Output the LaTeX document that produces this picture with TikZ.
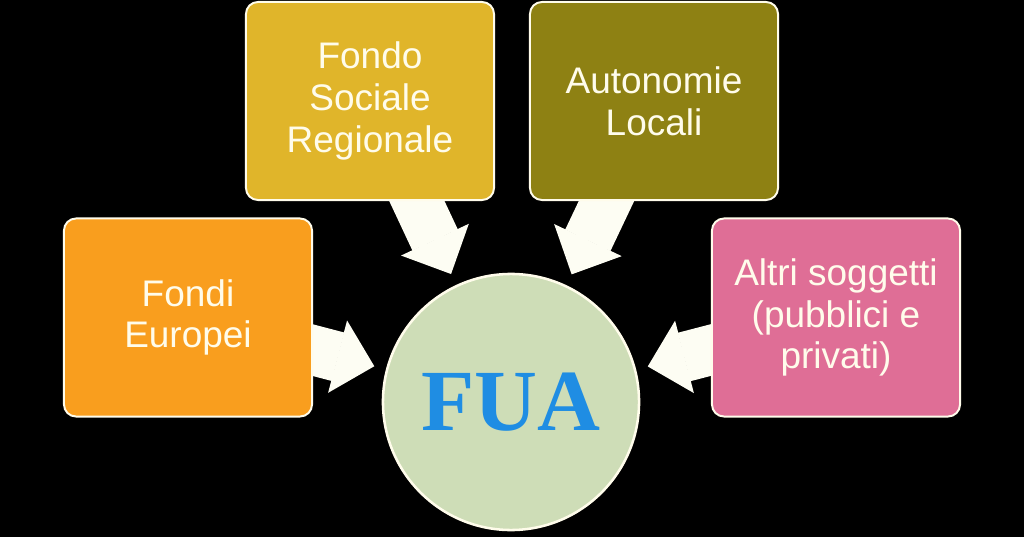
\documentclass[tikz,border=0pt]{standalone}
\usepackage{fontspec}
\setmainfont{Liberation Sans}
\newfontfamily\fuaserif{Liberation Serif}
\usepackage{tikz}
\usetikzlibrary{arrows.meta, backgrounds}
\definecolor{cream}{HTML}{FFFCEB}
\definecolor{arrowwhite}{HTML}{FDFDF3}
\definecolor{fondiorange}{HTML}{F99E1E}
\definecolor{socialegold}{HTML}{E0B52A}
\definecolor{autonomieolive}{HTML}{8E8113}
\definecolor{altripink}{HTML}{DF6E96}
\definecolor{fuagreen}{HTML}{CEDDB7}
\definecolor{fuablue}{HTML}{1F8DE3}

\begin{document}
\begin{tikzpicture}[x=0.025cm, y=-0.025cm,
  source/.style={draw=cream, line width=1.4pt, rounded corners=0.3cm, minimum width=6.2cm, minimum height=4.95cm, align=center, text=cream, font=\fontsize{26.3}{29.7}\selectfont},
  feed/.style={draw=arrowwhite, line width=35.6pt, -{Triangle[width=53pt, length=27pt, line width=1.2pt]}, shorten >=0.3cm}]
\useasboundingbox (0,0) rectangle (1024,537);
\node[source, fill=fondiorange] (fondi) at (188,317.5) {Fondi\\Europei};
\node[source, fill=socialegold] (sociale) at (370,101) {Fondo\\Sociale\\Regionale};
\node[source, fill=autonomieolive] (autonomie) at (654,101) {Autonomie\\Locali};
\node[source, fill=altripink] (altri) at (836,317.5) {Altri soggetti\\(pubblici e\\privati)};
\node[circle, draw=cream, line width=1.8pt, fill=fuagreen, minimum size=6.4cm, text=fuablue, font=\fuaserif\bfseries\fontsize{62}{62}\selectfont] (fua) at (511,402) {FUA};
\begin{scope}[on background layer]
\fill[black] (0,0) rectangle (1024,537);
\draw[feed] (fondi.center) -- (fua);
\draw[feed] (sociale.center) -- (fua);
\draw[feed] (autonomie.center) -- (fua);
\draw[feed] (altri.center) -- (fua);
\end{scope}
\end{tikzpicture}
\end{document}
